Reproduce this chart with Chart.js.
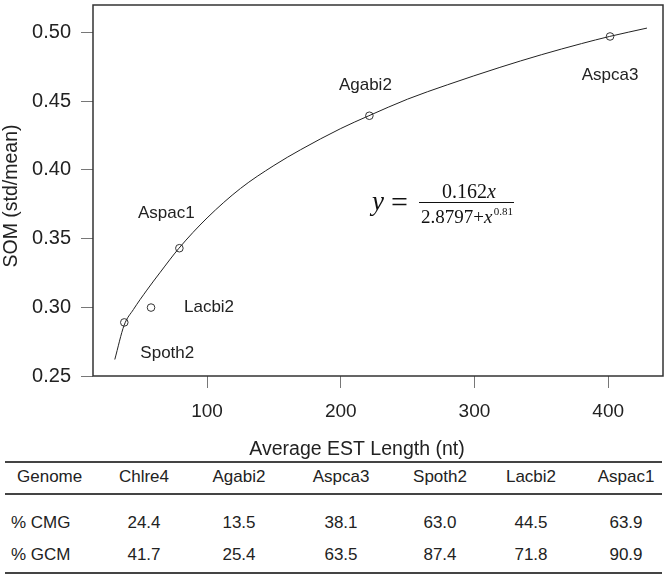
<!DOCTYPE html>
<html>
<head>
<meta charset="utf-8">
<script src="https://cdn.jsdelivr.net/npm/chart.js@4"></script>
<style>
  html, body { margin: 0; padding: 0; background: #fff; }
  #wrap { position: relative; width: 669px; height: 578px; font-family: "Liberation Sans", Arial, sans-serif; color: #222; }
  canvas { position: absolute; left: 0; top: 0; }
  .cell { position: absolute; font-size: 17px; white-space: nowrap; transform: translate(-50%, -50%); }
  .cell.left { transform: translate(0, -50%); }
  .rule { position: absolute; left: 5px; width: 657px; background: #444; }
</style>
</head>
<body>
<div id="wrap">
  <canvas id="c" width="669" height="460"></canvas>
</div>
<script>
// fitted curve
const curveX = [31, 38, 45, 55, 65, 79, 100, 125, 150, 170, 200, 221, 250, 280, 319, 350, 380, 401, 429];
const curveY = [0.262, 0.287, 0.2985, 0.3125, 0.3255, 0.343, 0.365, 0.3865, 0.4032, 0.4147, 0.4301, 0.4394, 0.4515, 0.462, 0.4746, 0.4838, 0.4919, 0.4971, 0.5032];

// genome points
const pointNames = ['Spoth2', 'Lacbi2', 'Aspac1', 'Agabi2', 'Aspca3'];
const pointX = [38.1, 58.1, 79.3, 221.4, 401.4];
const pointY = [0.289, 0.2998, 0.343, 0.4394, 0.4971];

// table under the chart
const genomes = ['Chlre4', 'Agabi2', 'Aspca3', 'Spoth2', 'Lacbi2', 'Aspac1'];
const cmg = ['24.4', '13.5', '38.1', '63.0', '44.5', '63.9'];
const gcm = ['41.7', '25.4', '63.5', '87.4', '71.8', '90.9'];

const xTicks = [100, 200, 300, 400];
const yTicks = [0.25, 0.30, 0.35, 0.40, 0.45, 0.50];

const FONT = '"Liberation Sans", Arial, sans-serif';
const SERIF = '"Liberation Serif", "Times New Roman", serif';

// label offsets from the point, in px
const labelOffset = {
  Spoth2: [43, 31], Lacbi2: [58, 0], Aspac1: [-13, -35], Agabi2: [-4, -30], Aspca3: [0, 39]
};

const decor = {
  id: 'decor',
  afterDraw(chart) {
    const ctx = chart.ctx, a = chart.chartArea;
    const xs = chart.scales.x, ys = chart.scales.y;
    ctx.save();
    // frame
    ctx.strokeStyle = '#333';
    ctx.lineWidth = 1.5;
    ctx.strokeRect(a.left, a.top, a.right - a.left, a.bottom - a.top);

    // point labels
    ctx.fillStyle = '#222';
    ctx.font = '17px ' + FONT;
    ctx.textAlign = 'center';
    ctx.textBaseline = 'middle';
    pointNames.forEach((n, i) => {
      const o = labelOffset[n];
      ctx.fillText(n, xs.getPixelForValue(pointX[i]) + o[0], ys.getPixelForValue(pointY[i]) + o[1]);
    });

    // axis titles
    ctx.font = '19.5px ' + FONT;
    ctx.fillText('Average EST Length (nt)', 357, 450);
    ctx.save();
    ctx.translate(12, 196);
    ctx.rotate(-Math.PI / 2);
    ctx.fillText('SOM (std/mean)', 0, 0);
    ctx.restore();

    // formula
    ctx.fillStyle = '#111';
    ctx.textBaseline = 'alphabetic';
    ctx.textAlign = 'left';
    ctx.font = 'italic 27px ' + SERIF;
    ctx.fillText('y', 372, 210);
    ctx.font = '30px ' + SERIF;
    ctx.textBaseline = 'middle';
    ctx.fillText('=', 391, 204);
    ctx.strokeStyle = '#111';
    ctx.lineWidth = 1;
    ctx.beginPath();
    ctx.moveTo(419, 202.5);
    ctx.lineTo(514, 202.5);
    ctx.stroke();
    ctx.textBaseline = 'alphabetic';
    ctx.font = '20px ' + SERIF;
    const num = '0.162';
    let w = ctx.measureText(num).width;
    ctx.font = 'italic 20px ' + SERIF;
    const wx = ctx.measureText('x').width;
    let x0 = 469 - (w + wx) / 2;
    ctx.font = '20px ' + SERIF;
    ctx.fillText(num, x0, 198);
    ctx.font = 'italic 20px ' + SERIF;
    ctx.fillText('x', x0 + w, 198);
    ctx.font = '19px ' + SERIF;
    const den = '2.8797+';
    ctx.fillText(den, 421, 223);
    w = ctx.measureText(den).width;
    ctx.font = 'italic 19px ' + SERIF;
    ctx.fillText('x', 421 + w, 223);
    ctx.font = '11px ' + SERIF;
    ctx.fillText('0.81', 421 + w + wx + 1, 215);
    ctx.restore();
  }
};

new Chart(document.getElementById('c'), {
  type: 'scatter',
  data: {
    datasets: [
      {
        type: 'line',
        data: curveX.map((x, i) => ({ x: x, y: curveY[i] })),
        borderColor: '#222',
        borderWidth: 1,
        pointRadius: 0,
        cubicInterpolationMode: 'monotone',
        fill: false
      },
      {
        data: pointX.map((x, i) => ({ x: x, y: pointY[i] })),
        pointRadius: 3.8,
        borderWidth: 1,
        borderColor: '#333',
        backgroundColor: '#fff'
      }
    ]
  },
  options: {
    responsive: false,
    animation: false,
    layout: { padding: { top: 1, right: 6, left: 0, bottom: 0 } },
    plugins: { legend: { display: false }, tooltip: { enabled: false } },
    scales: {
      x: {
        type: 'linear',
        min: 14.7,
        max: 441,
        afterBuildTicks: s => { s.ticks = xTicks.map(v => ({ value: v })); },
        afterFit: s => { s.height = 84; s.paddingLeft = 0; s.paddingRight = 0; },
        grid: { display: true, drawOnChartArea: false, drawTicks: true, tickLength: 12, color: '#777', lineWidth: 1 },
        border: { display: false },
        ticks: { color: '#222', font: { family: FONT, size: 19 }, padding: 12, maxRotation: 0 }
      },
      y: {
        type: 'linear',
        min: 0.25,
        max: 0.52,
        afterBuildTicks: s => { s.ticks = yTicks.map(v => ({ value: v })); },
        afterFit: s => { s.width = 93; s.paddingTop = 0; s.paddingBottom = 0; },
        grid: { display: true, drawOnChartArea: false, drawTicks: true, tickLength: 12, color: '#777', lineWidth: 1 },
        border: { display: false },
        ticks: { color: '#222', font: { family: FONT, size: 20 }, padding: 10, callback: v => v.toFixed(2) }
      }
    }
  },
  plugins: [decor]
});

// table
const wrap = document.getElementById('wrap');
const colX = [144, 239, 341, 440, 531, 626];
function cell(text, x, y, left) {
  const d = document.createElement('div');
  d.className = 'cell' + (left ? ' left' : '');
  d.style.left = x + 'px';
  d.style.top = y + 'px';
  d.textContent = text;
  wrap.appendChild(d);
}
function rule(y, h) {
  const d = document.createElement('div');
  d.className = 'rule';
  d.style.top = y + 'px';
  d.style.height = h + 'px';
  wrap.appendChild(d);
}
rule(461, 2);
rule(493, 1.5);
rule(572, 1.5);
cell('Genome', 17, 477, true);
cell('% CMG', 11, 523, true);
cell('% GCM', 11, 555, true);
genomes.forEach((g, i) => {
  cell(g, colX[i], 477);
  cell(cmg[i], colX[i], 523);
  cell(gcm[i], colX[i], 555);
});
</script>
</body>
</html>
